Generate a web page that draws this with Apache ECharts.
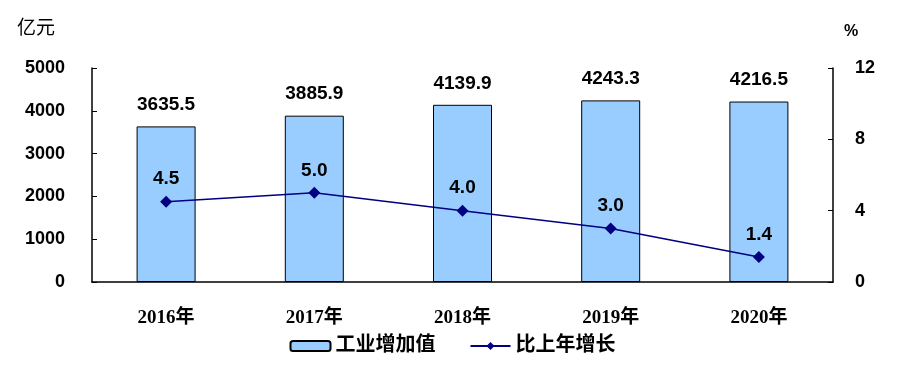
<!DOCTYPE html>
<html><head><meta charset="utf-8">
<script src="https://cdn.jsdelivr.net/npm/echarts@6/dist/echarts.min.js"></script>
<style>html,body{margin:0;padding:0;background:#fff}#c{width:905px;height:389px}</style>
</head><body><div id="c"></div>
<script>
const categories = ['2016年','2017年','2018年','2019年','2020年'];
const valueAdded = [3635.5, 3885.9, 4139.9, 4243.3, 4216.5];
const growth = [4.5, 5.0, 4.0, 3.0, 1.4];
const leftTicks = [0, 1000, 2000, 3000, 4000, 5000];
const rightTicks = [0, 4, 8, 12];

const chart = echarts.init(document.getElementById('c'));
const numFont = {fontFamily: 'Liberation Sans, Arial, sans-serif', fontWeight: 'bold', fontSize: 19, color: '#000'};
const cjkFont = 'Liberation Serif, "Noto Sans CJK SC", serif';
chart.setOption({
  animation: false,
  grid: {left: 92, right: 72, top: 68, bottom: 107},
  legend: {
    bottom: 28, left: 'center', itemGap: 34, itemWidth: 40, itemHeight: 10,
    textStyle: {fontFamily: cjkFont, fontWeight: 'bold', fontSize: 20, color: '#000'},
    data: [{name: '工业增加值'}, {name: '比上年增长'}]
  },
  xAxis: {
    type: 'category', data: categories,
    axisLine: {lineStyle: {color: '#000', width: 1.5}},
    axisTick: {inside: true, length: 5, lineStyle: {color: '#000'}},
    axisLabel: {margin: 27, fontFamily: cjkFont, fontWeight: 'bold', fontSize: 19, color: '#000'}
  },
  yAxis: [{
    type: 'value', min: 0, max: 5000, interval: 1000,
    name: '亿元', nameLocation: 'end', nameGap: 32,
    nameTextStyle: {fontFamily: '"Noto Sans CJK SC", sans-serif', fontSize: 19, color: '#000', align: 'right', padding: [0, 37, 0, 0]},
    axisLine: {show: true, lineStyle: {color: '#000', width: 1.5}},
    axisTick: {show: true, inside: true, length: 5, lineStyle: {color: '#000'}},
    splitLine: {show: false},
    axisLabel: {margin: 27, fontFamily: 'Liberation Sans, Arial, sans-serif', fontWeight: 'bold', fontSize: 18, color: '#000',
      formatter: v => leftTicks.includes(v) ? String(v) : ''}
  }, {
    type: 'value', min: 0, max: 12, interval: 4,
    name: '%', nameLocation: 'end', nameGap: 28,
    nameTextStyle: {fontFamily: 'Liberation Sans, Arial, sans-serif', fontWeight: 'bold', fontSize: 16, color: '#000', align: 'left', padding: [0, 0, 0, 11]},
    axisLine: {show: true, lineStyle: {color: '#000', width: 1.5}},
    axisTick: {show: true, inside: true, length: 5, lineStyle: {color: '#000'}},
    splitLine: {show: false},
    axisLabel: {margin: 22, fontFamily: 'Liberation Sans, Arial, sans-serif', fontWeight: 'bold', fontSize: 18, color: '#000',
      formatter: v => rightTicks.includes(v) ? String(v) : ''}
  }],
  series: [{
    name: '工业增加值', type: 'bar', data: valueAdded, barWidth: 59,
    itemStyle: {color: '#99CCFF', borderColor: '#000', borderWidth: 1},
    label: {show: true, position: 'top', distance: 12, ...numFont, formatter: p => p.value.toFixed(1)}
  }, {
    name: '比上年增长', type: 'line', yAxisIndex: 1, data: growth,
    symbol: 'diamond', symbolSize: 12,
    lineStyle: {color: '#000080', width: 1.5}, itemStyle: {color: '#000080'},
    label: {show: true, position: 'top', distance: 7, ...numFont, formatter: p => p.value.toFixed(1)}
  }]
});
</script></body></html>
